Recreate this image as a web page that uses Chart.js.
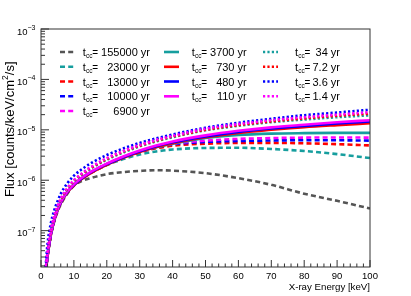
<!DOCTYPE html>
<html>
<head>
<meta charset="utf-8">
<script src="https://cdn.jsdelivr.net/npm/chart.js@4.4.0/dist/chart.umd.min.js"></script>
<style>
html, body { margin: 0; padding: 0; background: #fff; }
</style>
</head>
<body>
<canvas id="c" width="411" height="296"></canvas>
<script>
const energy = [1.4, 2, 3, 4, 5, 6, 8, 10, 12, 15, 20, 25, 30, 35, 40, 50, 60, 70, 80, 90, 100];

// flux [counts/keV/cm2/s] per age
const flux155000 = [1.4e-8, 3.1e-8, 8.0e-8, 1.5e-7, 2.35e-7, 3.3e-7, 5.4e-7, 7.8e-7, 9.4e-7, 1.1e-6, 1.32e-6, 1.45e-6, 1.53e-6, 1.58e-6, 1.55e-6, 1.38e-6, 1.1e-6, 8.1e-7, 5.4e-7, 3.9e-7, 2.75e-7];
const flux23000 = [1.45e-8, 3.25e-8, 8.3e-8, 1.6e-7, 2.52e-7, 3.55e-7, 5.75e-7, 7.95e-7, 1.02e-6, 1.38e-6, 2.0e-6, 2.63e-6, 3.24e-6, 3.72e-6, 4.07e-6, 4.37e-6, 4.4e-6, 4.17e-6, 3.8e-6, 3.3e-6, 2.75e-6];
const flux13000 = [1.42e-8, 3.2e-8, 8.2e-8, 1.58e-7, 2.5e-7, 3.5e-7, 5.7e-7, 7.9e-7, 1.02e-6, 1.38e-6, 2.03e-6, 2.8e-6, 3.6e-6, 4.3e-6, 4.85e-6, 5.3e-6, 5.5e-6, 5.5e-6, 5.4e-6, 5.2e-6, 4.9e-6];
const flux10000 = [1.46e-8, 3.3e-8, 8.4e-8, 1.61e-7, 2.55e-7, 3.6e-7, 5.8e-7, 8.05e-7, 1.04e-6, 1.41e-6, 2.08e-6, 2.85e-6, 3.68e-6, 4.45e-6, 5.15e-6, 5.75e-6, 6.0e-6, 6.15e-6, 6.2e-6, 6.2e-6, 6.1e-6];
const flux6900 = [1.48e-8, 3.35e-8, 8.6e-8, 1.64e-7, 2.6e-7, 3.65e-7, 5.9e-7, 8.2e-7, 1.06e-6, 1.43e-6, 2.11e-6, 2.9e-6, 3.75e-6, 4.55e-6, 5.3e-6, 6.1e-6, 6.6e-6, 6.85e-6, 7.0e-6, 7.05e-6, 7.0e-6];
const flux3700 = [1.45e-8, 3.3e-8, 8.5e-8, 1.62e-7, 2.57e-7, 3.6e-7, 5.85e-7, 8.1e-7, 1.04e-6, 1.41e-6, 2.07e-6, 2.85e-6, 3.7e-6, 4.5e-6, 5.3e-6, 6.9e-6, 7.9e-6, 8.4e-6, 8.6e-6, 8.7e-6, 8.7e-6];
const flux730 = [1.4e-8, 3.15e-8, 8.2e-8, 1.56e-7, 2.48e-7, 3.5e-7, 5.7e-7, 7.9e-7, 1.01e-6, 1.37e-6, 2.02e-6, 2.78e-6, 3.64e-6, 4.55e-6, 5.45e-6, 7.1e-6, 8.7e-6, 1.0e-5, 1.13e-5, 1.24e-5, 1.35e-5];
const flux480 = [1.45e-8, 3.25e-8, 8.4e-8, 1.6e-7, 2.55e-7, 3.6e-7, 5.85e-7, 8.1e-7, 1.04e-6, 1.41e-6, 2.08e-6, 2.86e-6, 3.76e-6, 4.72e-6, 5.65e-6, 7.4e-6, 9.1e-6, 1.06e-5, 1.19e-5, 1.33e-5, 1.46e-5];
const flux110 = [1.5e-8, 3.4e-8, 8.7e-8, 1.66e-7, 2.63e-7, 3.7e-7, 6.0e-7, 8.3e-7, 1.07e-6, 1.45e-6, 2.14e-6, 2.95e-6, 3.89e-6, 4.9e-6, 5.89e-6, 7.76e-6, 9.55e-6, 1.12e-5, 1.26e-5, 1.41e-5, 1.55e-5];
const flux34 = [1.55e-8, 3.8e-8, 1.0e-7, 1.85e-7, 2.9e-7, 4.1e-7, 6.6e-7, 9.5e-7, 1.22e-6, 1.68e-6, 2.55e-6, 3.55e-6, 4.7e-6, 5.9e-6, 7.1e-6, 9.8e-6, 1.2e-5, 1.42e-5, 1.6e-5, 1.78e-5, 1.94e-5];
const flux7p2 = [1.58e-8, 3.9e-8, 1.02e-7, 1.9e-7, 2.98e-7, 4.2e-7, 6.8e-7, 9.8e-7, 1.26e-6, 1.74e-6, 2.65e-6, 3.7e-6, 4.85e-6, 6.1e-6, 7.35e-6, 1.0e-5, 1.24e-5, 1.47e-5, 1.69e-5, 1.9e-5, 2.1e-5];
const flux3p6 = [1.9e-8, 5.6e-8, 1.41e-7, 2.5e-7, 3.8e-7, 5.4e-7, 8.7e-7, 1.23e-6, 1.58e-6, 2.14e-6, 3.16e-6, 4.27e-6, 5.5e-6, 6.76e-6, 8.1e-6, 1.1e-5, 1.38e-5, 1.66e-5, 1.95e-5, 2.2e-5, 2.5e-5];
const flux1p4 = [1.6e-8, 4.0e-8, 1.05e-7, 1.95e-7, 3.05e-7, 4.3e-7, 7.0e-7, 1.0e-6, 1.3e-6, 1.8e-6, 2.75e-6, 3.8e-6, 5.0e-6, 6.3e-6, 7.6e-6, 1.05e-5, 1.3e-5, 1.55e-5, 1.78e-5, 2.0e-5, 2.24e-5];

const ages = ['155000', '23000', '13000', '10000', '6900', '3700', '730', '480', '110', '34', '7.2', '3.6', '1.4'];
const series = [flux155000, flux23000, flux13000, flux10000, flux6900, flux3700, flux730, flux480, flux110, flux34, flux7p2, flux3p6, flux1p4];

const xTicks = [0, 10, 20, 30, 40, 50, 60, 70, 80, 90, 100];
const yDecades = [-3, -4, -5, -6, -7];

// look of each curve
const teal = 'rgb(22,158,158)';
const colors = ['#555555', teal, '#ff0000', '#0000ff', '#ff00ff', teal, '#ff0000', '#0000ff', '#ff00ff', teal, '#ff0000', '#0000ff', '#ff00ff'];
const DASH = [5, 3.2], DOT = [2.2, 2.2];
const dashes = [DASH, DASH, DASH, DASH, DASH, [], [], [], [], DOT, DOT, DOT, DOT];

const FONT = '"Liberation Sans", Arial, Helvetica, sans-serif';

const datasets = series.map((vals, i) => ({
    label: ages[i],
    data: vals.map((v, k) => ({ x: energy[k], y: v })),
    borderColor: colors[i],
    borderDash: dashes[i],
    borderWidth: 2.6,
    pointRadius: 0,
    fill: false,
    cubicInterpolationMode: 'monotone',
    clip: 0,
    order: series.length - i
}));

// ROOT-like frame, inward ticks, labels, titles and the three-column legend
const rootFrame = {
    id: 'rootFrame',
    beforeDraw(chart) {
        const ctx = chart.ctx;
        ctx.save();
        ctx.fillStyle = '#fff';
        ctx.fillRect(0, 0, chart.width, chart.height);
        ctx.restore();
    },
    afterDraw(chart) {
        const ctx = chart.ctx;
        const a = chart.chartArea;
        const xs = chart.scales.x, ys = chart.scales.y;
        ctx.save();
        ctx.strokeStyle = '#333';
        ctx.lineWidth = 1;
        ctx.strokeRect(a.left, a.top, a.right - a.left, a.bottom - a.top);

        // x ticks
        ctx.beginPath();
        for (let v = 0; v <= 100; v += 2) {
            const px = xs.getPixelForValue(v);
            const len = (v % 10 === 0) ? 7 : 3.5;
            ctx.moveTo(px, a.bottom);
            ctx.lineTo(px, a.bottom - len);
        }
        // y ticks (log)
        for (let e = -8; e <= -3; e++) {
            for (let m = 1; m <= 9; m++) {
                const v = m * Math.pow(10, e);
                if (v < ys.min * 0.999 || v > ys.max * 1.001) continue;
                const py = ys.getPixelForValue(v);
                const len = (m === 1) ? 8 : 4;
                ctx.moveTo(a.left, py);
                ctx.lineTo(a.left + len, py);
            }
        }
        ctx.stroke();

        ctx.fillStyle = '#000';
        // x tick labels
        ctx.font = '9.5px ' + FONT;
        ctx.textAlign = 'center';
        ctx.textBaseline = 'alphabetic';
        xTicks.forEach(v => ctx.fillText(String(v), xs.getPixelForValue(v), 278.5));

        // y tick labels 10^n
        yDecades.forEach(e => {
            const py = ys.getPixelForValue(Math.pow(10, e));
            ctx.textAlign = 'right';
            ctx.font = '7px ' + FONT;
            const exp = '\u2212' + String(-e);
            ctx.fillText(exp, 35.5, py + 1);
            const ew = ctx.measureText(exp).width;
            ctx.font = '9.5px ' + FONT;
            ctx.fillText('10', 35.5 - ew, py + 5.5);
        });

        // x title
        ctx.font = '9.7px ' + FONT;
        ctx.textAlign = 'right';
        ctx.fillText('X-ray Energy [keV]', a.right, 289.5);

        // y title (rotated)
        ctx.save();
        ctx.translate(13.5, 197);
        ctx.rotate(-Math.PI / 2);
        ctx.textAlign = 'left';
        let cx = 0;
        const part = (txt, size, dy) => {
            ctx.font = size + 'px ' + FONT;
            ctx.fillText(txt, cx, dy);
            cx += ctx.measureText(txt).width;
        };
        part('Flux [counts/keV/cm', 13, 0);
        part('2', 8.5, -5.5);
        part('/s]', 13, 0);
        ctx.restore();

        // legend
        const colX = [[60, 74, 82.7, 150], [164, 179, 191.7, 246.7], [263, 278, 295, 340]];
        const rowY = [52, 66.8, 81.5, 96.3, 111];
        chart.data.datasets.forEach((ds, i) => {
            const col = i < 5 ? 0 : (i < 9 ? 1 : 2);
            const row = i < 5 ? i : (i < 9 ? i - 5 : i - 9);
            const c = colX[col], y = rowY[row];
            ctx.save();
            ctx.strokeStyle = ds.borderColor;
            ctx.lineWidth = ds.borderWidth;
            ctx.setLineDash(ds.borderDash);
            ctx.beginPath();
            ctx.moveTo(c[0], y);
            ctx.lineTo(c[1], y);
            ctx.stroke();
            ctx.restore();

            ctx.textAlign = 'left';
            ctx.font = '11px ' + FONT;
            ctx.fillText('t', c[2], y + 4);
            ctx.font = '6.5px ' + FONT;
            ctx.fillText('cc', c[2] + 3.2, y + 6);
            ctx.font = '10px ' + FONT;
            ctx.fillText('=', c[2] + 9.6, y + 4);
            ctx.font = '11px ' + FONT;
            ctx.textAlign = 'right';
            ctx.fillText(ds.label + ' yr', c[3], y + 4);
        });
        ctx.restore();
    }
};

new Chart(document.getElementById('c'), {
    type: 'line',
    data: { datasets },
    options: {
        responsive: false,
        animation: false,
        devicePixelRatio: 1,
        layout: { padding: { top: 29, right: 41, left: 0, bottom: 0 } },
        plugins: { legend: { display: false }, tooltip: { enabled: false } },
        scales: {
            x: {
                type: 'linear', min: 0, max: 100,
                grid: { display: false }, border: { display: false },
                ticks: { display: false },
                afterFit: s => { s.height = 29; }
            },
            y: {
                type: 'logarithmic', min: 1.9e-8, max: 1e-3,
                grid: { display: false }, border: { display: false },
                ticks: { display: false },
                afterFit: s => { s.width = 41; }
            }
        }
    },
    plugins: [rootFrame]
});
</script>
</body>
</html>
